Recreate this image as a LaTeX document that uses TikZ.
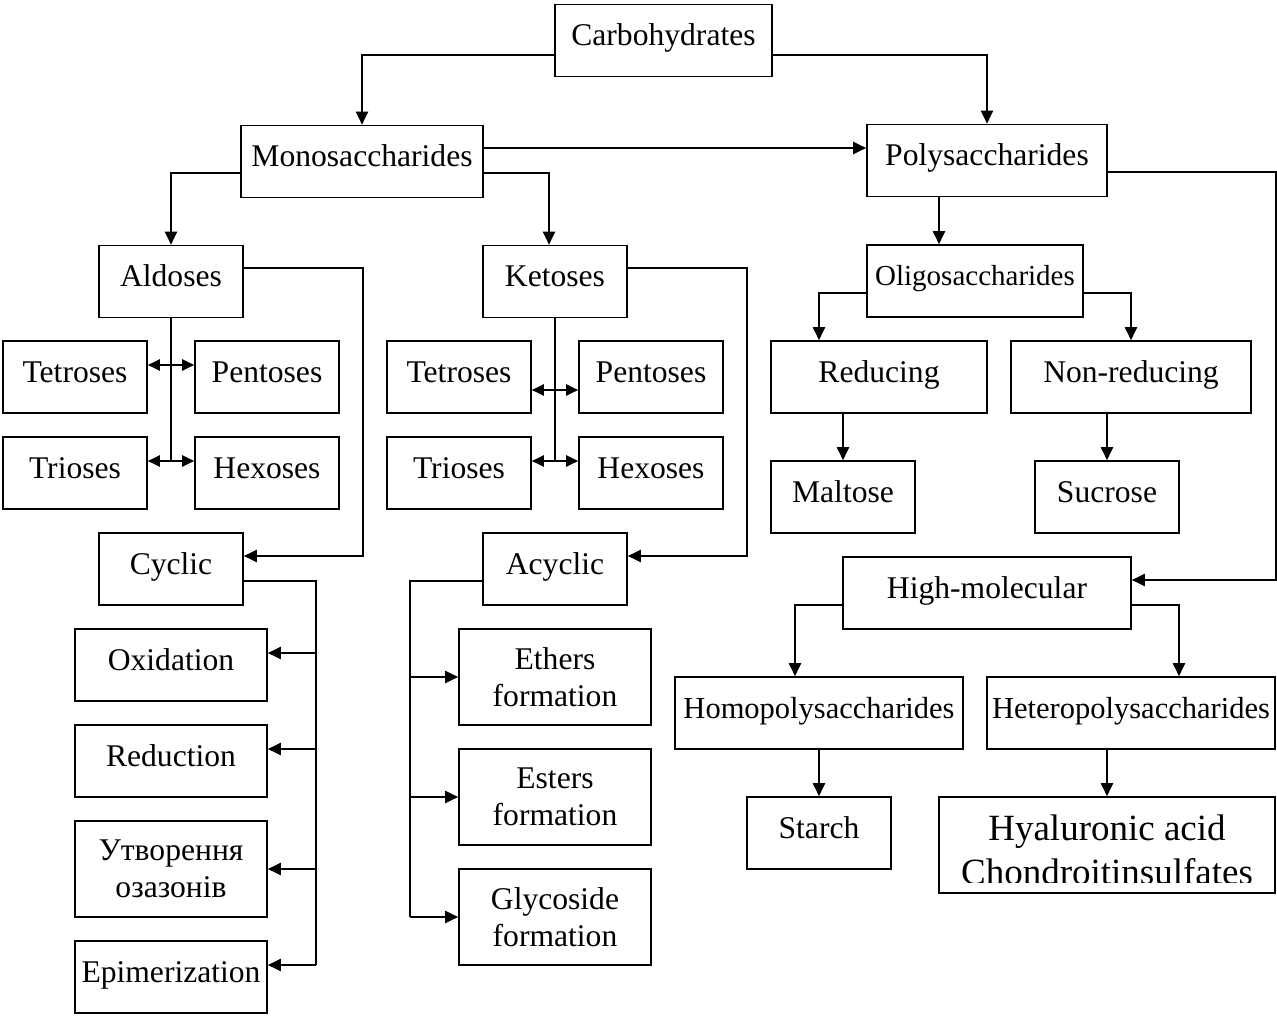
\documentclass[tikz,border=0pt]{standalone}
\usepackage{fontspec}
\setmainfont{Liberation Serif}
\usetikzlibrary{arrows.meta}
\newcommand\fsz{\fontsize{31.6}{37}\selectfont}
\begin{document}
\begin{tikzpicture}[x=1pt,y=-1pt,
 bx/.style={draw, line width=1.6pt, inner xsep=2pt, inner ysep=0pt, text height=41pt, text depth=31pt, minimum width=#1, font=\fsz},
 bxx/.style={draw, line width=1.6pt, inner sep=0pt, minimum width=#1, minimum height=96pt, align=center, font=\fsz},
 con/.style={line width=2pt},
 arr/.style={con, -{Triangle[length=13pt,width=12pt]}},
 arrl/.style={con, {Triangle[length=13pt,width=12pt]}-},
 arrb/.style={con, {Triangle[length=12pt,width=11pt]}-{Triangle[length=12pt,width=11pt]}},
]
\fill[white] (0,0) rectangle (1277,1016);
\useasboundingbox (0,0) rectangle (1277,1016);

% top levels
\node[bx=217pt] (carb) at (663.5,40.5) {Carbohydrates};
\node[bx=242pt] (mono) at (362,161.5) {Monosaccharides};
\node[bx=240pt] (poly) at (987,160.5) {Polysaccharides};

% aldoses / ketoses
\node[bx=144pt] (ald) at (171,281.5) {Aldoses};
\node[bx=144pt] (ket) at (555,281.5) {Ketoses};
\node[bx=144pt] (at1) at (75,377) {Tetroses};
\node[bx=144pt] (ap) at (267,377) {Pentoses};
\node[bx=144pt] (at3) at (75,473) {Trioses};
\node[bx=144pt] (ah) at (267,473) {Hexoses};
\node[bx=144pt] (kt) at (459,377) {Tetroses};
\node[bx=144pt] (kp) at (651,377) {Pentoses};
\node[bx=144pt] (ktr) at (459,473) {Trioses};
\node[bx=144pt] (kh) at (651,473) {Hexoses};

% cyclic / acyclic
\node[bx=144pt] (cyc) at (171,569) {Cyclic};
\node[bx=144pt] (acy) at (555,569) {Acyclic};
\node[bx=192pt] (ox) at (171,665) {Oxidation};
\node[bx=192pt] (red) at (171,761) {Reduction};
\node[bxx=192pt] (utv) at (171,869) {Утворення\\озазонів};
\node[bx=192pt] (epi) at (171,977) {Epimerization};
\node[bxx=192pt] (eth) at (555,677) {Ethers\\formation};
\node[bxx=192pt] (est) at (555,797) {Esters\\formation};
\node[bxx=192pt] (gly) at (555,917) {Glycoside\\formation};

% polysaccharides side
\node[bx=216pt, font=\fontsize{29}{34}\selectfont] (oli) at (975,281) {Oligosaccharides};
\node[bx=216pt] (redu) at (879,377) {Reducing};
\node[bx=240pt] (nonr) at (1131,377) {Non-reducing};
\node[bx=144pt] (mal) at (843,497) {Maltose};
\node[bx=144pt] (suc) at (1107,497) {Sucrose};
\node[bx=288pt] (hm) at (987,593) {High-molecular};
\node[bx=288pt, font=\fontsize{30.5}{36}\selectfont] (homo) at (819,713) {Homopolysaccharides};
\node[bx=288pt, font=\fontsize{30.5}{36}\selectfont, inner xsep=0pt] (hetero) at (1131,713) {Heteropolysaccharides};
\node[bx=144pt] (starch) at (819,833) {Starch};
\node[draw, line width=1.6pt, minimum width=336pt, minimum height=96pt, inner sep=0pt] (hya) at (1107,845) {};
\begin{scope}
\clip (hya.north west) rectangle ([yshift=11pt]hya.south east);
\node[font=\fontsize{37}{44}\selectfont, align=center, inner sep=0pt] (hyat) at (1107,850.3) {Hyaluronic acid\\Chondroitinsulfates};
\end{scope}

% connectors: top
\draw[arr] ([yshift=-14.5pt]carb.west) -| (mono.north);
\draw[arr] ([yshift=-14.5pt]carb.east) -| (poly.north);
\draw[arr] ([yshift=13.5pt]mono.east) -- ([yshift=12.5pt]poly.west);
\draw[arr] ([yshift=-11.5pt]mono.west) -| (ald.north);
\draw[arr] ([yshift=-11.5pt]mono.east) -| ([xshift=-6pt]ket.north);

% aldoses group
\draw[con] (ald.south) -- ++(0,144);
\draw[arrb] ([yshift=12pt]at1.east) -- ([yshift=12pt]ap.west);
\draw[arrb] ([yshift=12pt]at3.east) -- ([yshift=12pt]ah.west);
\draw[arr] ([yshift=13.5pt]ald.east) -- ++(119,0) |- ([yshift=13pt]cyc.east);

% ketoses group
\draw[con] (ket.south) -- ++(0,144);
\draw[arrb] ([yshift=-13pt]kt.east) -- ([yshift=-13pt]kp.west);
\draw[arrb] ([yshift=12pt]ktr.east) -- ([yshift=12pt]kh.west);
\draw[arr] ([yshift=13.5pt]ket.east) -- ++(119,0) |- ([yshift=13pt]acy.east);

% cyclic reactions
\draw[con] ([yshift=-12pt]cyc.east) -- ++(72,0) -- ++(0,384);
\draw[arrl] ([yshift=12pt]ox.east) -- ++(48,0);
\draw[arrl] ([yshift=12pt]red.east) -- ++(48,0);
\draw[arrl] (utv.east) -- ++(48,0);
\draw[arrl] ([yshift=12pt]epi.east) -- ++(48,0);

% acyclic reactions
\draw[con] ([yshift=-12pt]acy.west) -- ++(-72,0) -- ++(0,336);
\draw[arr] ([xshift=-48pt]eth.west) -- (eth.west);
\draw[arr] ([xshift=-48pt]est.west) -- (est.west);
\draw[arr] ([xshift=-48pt]gly.west) -- (gly.west);

% polysaccharides side
\draw[arr] ([xshift=-48pt]poly.south) -- ([xshift=-36pt]oli.north);
\draw[arr] ([yshift=-11.5pt]poly.east) -- ++(168,0) |- ([yshift=13pt]hm.east);
\draw[arr] ([yshift=-12pt]oli.west) -| ([xshift=-60pt]redu.north);
\draw[arr] ([yshift=-12pt]oli.east) -| (nonr.north);
\draw[arr] ([xshift=-36pt]redu.south) -- (mal.north);
\draw[arr] ([xshift=-24pt]nonr.south) -- (suc.north);
\draw[arr] ([yshift=-12pt]hm.west) -| ([xshift=-24pt]homo.north);
\draw[arr] ([yshift=-12pt]hm.east) -| ([xshift=48pt]hetero.north);
\draw[arr] (homo.south) -- (starch.north);
\draw[arr] ([xshift=-24pt]hetero.south) -- (hya.north);
\end{tikzpicture}
\end{document}
